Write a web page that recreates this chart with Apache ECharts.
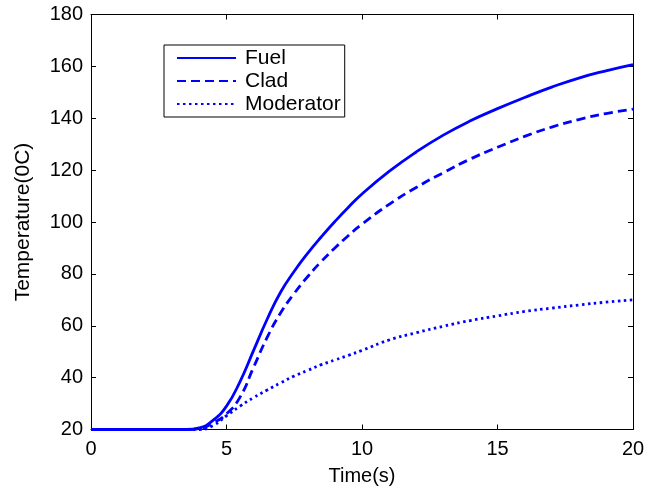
<!DOCTYPE html>
<html>
<head>
<meta charset="utf-8">
<script src="https://cdn.jsdelivr.net/npm/echarts@6/dist/echarts.min.js"></script>
<style>html,body{margin:0;padding:0;background:#fff}#c{width:658px;height:496px}</style>
</head>
<body>
<div id="c"></div>
<script>
var timeS = [0,1,2,3,3.5,4,4.5,5,5.5,6,6.5,7,7.5,8,8.5,9,9.5,10,11,12,13,14,15,16,17,18,19,20];
var fuel = [20,20,20,20,20,20.6,23.5,29,38.5,50.5,62.5,73,81,88,94.3,100.2,105.7,110.8,119.5,127,133.5,139,143.7,148,152,155.5,158.3,160.7];
var clad = [20,20,20,20,20,20.3,22.5,26,32.5,44,55.5,65,72.5,79,84.8,90,94.8,99.2,106.8,113.3,119,124.3,128.8,133,136.6,139.5,141.8,143.5];
var moderator = [20,20,20,20,20,20,21.5,25.3,29,32.3,35.2,38,40.6,42.8,45,46.8,48.6,50.5,54.5,57.3,59.8,62,63.8,65.5,66.8,68,69.1,70];
var xTicks = [0,5,10,15,20];
var yTicks = [20,40,60,80,100,120,140,160,180];

function pairs(ys){ return timeS.map(function(t,i){ return [t, ys[i]]; }); }

var chart = echarts.init(document.getElementById('c'), null, {renderer:'canvas'});
var font = 'Liberation Sans, Arial, sans-serif';
var axCommon = {
  axisLine:{show:true, onZero:false, lineStyle:{color:'#000', width:1}},
  axisTick:{show:true, inside:true, length:5, lineStyle:{color:'#000'}},
  splitLine:{show:false}
};
chart.setOption({
  animation:false,
  backgroundColor:'#fff',
  grid:{left:91, right:25, top:14.5, bottom:66.5, containLabel:false},
  legend:{
    left:164, top:45, orient:'vertical',
    data:['Fuel','Clad','Moderator'],
    backgroundColor:'#fff',
    borderColor:'#000', borderWidth:1, borderRadius:0,
    padding:[2.5,4,2.5,12],
    itemWidth:59, itemHeight:12, itemGap:2,
    itemStyle:{opacity:0},
    textStyle:{fontFamily:font, fontSize:21, color:'#000', lineHeight:21, padding:[0,0,0,4]}
  },
  xAxis:[
    Object.assign({type:'value', min:0, max:20, interval:5, position:'bottom',
      axisLabel:{fontFamily:font, fontSize:20, color:'#000', margin:10},
      name:'Time(s)', nameLocation:'middle', nameGap:37,
      nameTextStyle:{fontFamily:font, fontSize:20, color:'#000'}}, axCommon),
    Object.assign({type:'value', min:0, max:20, interval:5, position:'top',
      axisLabel:{show:false}}, axCommon)
  ],
  yAxis:[
    Object.assign({type:'value', min:20, max:180, interval:20, position:'left',
      axisLabel:{fontFamily:font, fontSize:20, color:'#000', margin:8},
      name:'Temperature(0C)', nameLocation:'middle', nameGap:57, nameRotate:90,
      nameTextStyle:{fontFamily:font, fontSize:21, color:'#000'}}, axCommon),
    Object.assign({type:'value', min:20, max:180, interval:20, position:'right',
      axisLabel:{show:false}}, axCommon)
  ],
  series:[
    {name:'Fuel', type:'line', data:pairs(fuel), showSymbol:false, symbol:'none', smooth:0.5,
      lineStyle:{color:'#0000ff', width:2.8, type:'solid'}, itemStyle:{color:'#0000ff'}},
    {name:'Clad', type:'line', data:pairs(clad), showSymbol:false, symbol:'none', smooth:0.5,
      lineStyle:{color:'#0000ff', width:2.8, type:[9,5]}, itemStyle:{color:'#0000ff'}},
    {name:'Moderator', type:'line', data:pairs(moderator), showSymbol:false, symbol:'none', smooth:0.5,
      lineStyle:{color:'#0000ff', width:2.8, type:[2.5,3.5]}, itemStyle:{color:'#0000ff'}}
  ]
});
</script>
</body>
</html>
